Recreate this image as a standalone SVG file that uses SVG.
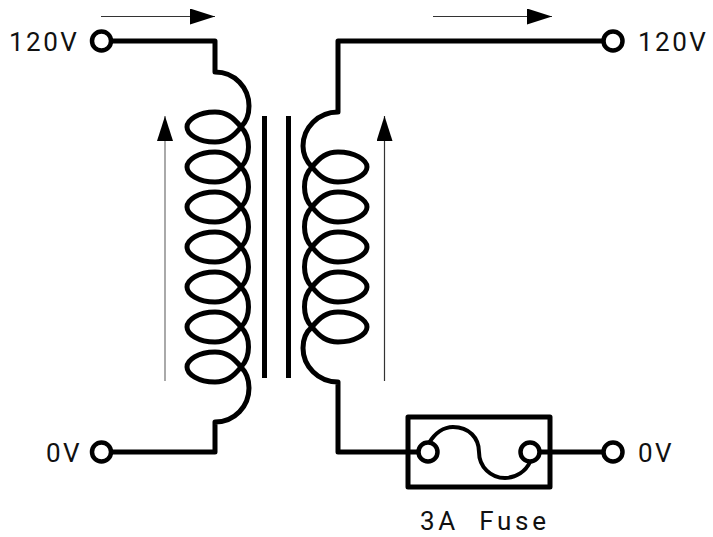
<svg xmlns="http://www.w3.org/2000/svg" width="713" height="537" viewBox="0 0 713 537">
<style>
.w{fill:none;stroke:#000;stroke-width:5;stroke-linejoin:round;stroke-linecap:butt}
.t{fill:#fff;stroke:#000;stroke-width:4.500}
.f{fill:#fff;stroke:#000;stroke-width:4.500}
.a{fill:none;stroke:#333;stroke-width:1.2}
text{font-family:"Roboto",sans-serif;font-size:26px;fill:#111;letter-spacing:2.500px}
</style>
<defs>
<marker id="h" markerUnits="userSpaceOnUse" markerWidth="26" markerHeight="16" refX="25" refY="8" orient="auto"><path d="M0 0L25 8L0 16Z" fill="#000"/></marker>
<path id="lp" d="M241 127C233 137 226 142 215 142C198 142 187 134 187 127C187 120 198 112 215 112C226 112 233 117 241 127C251 137 251 157 241 167"/>
<path id="ls" d="M312 167C320 157 327 152 338 152C355 152 367 160 367 167C367 174 355 182 338 182C327 182 320 177 312 167C302 177 302 197 312 207"/>
</defs>
<g id="connectors">
<path class="w" d="M110 41H215V72C235 72 249 88 249 106C249 115 246 122 241 127"/>
<use href="#lp" class="w"/><use href="#lp" class="w" y="40"/><use href="#lp" class="w" y="80"/><use href="#lp" class="w" y="120"/><use href="#lp" class="w" y="160"/><use href="#lp" class="w" y="200"/>
<path class="w" d="M241 367C233 377 226 382 215 382C198 382 187 374 187 367C187 360 198 352 215 352C226 352 233 357 241 367C246 372 249 379 249 388C249 406 235 422 215 422V452H110"/>
<path class="w" d="M605 41H338V112C318 112 303 128 303 146C303 155 307 162 312 167"/>
<use href="#ls" class="w"/><use href="#ls" class="w" y="40"/><use href="#ls" class="w" y="80"/><use href="#ls" class="w" y="120"/>
<path class="w" d="M312 327C320 317 327 312 338 312C355 312 367 320 367 327C367 334 355 342 338 342C327 342 320 337 312 327C306 332 303 340 303 348C303 366 318 382 338 382V452H420"/>
<path class="w" d="M540 452H605"/>
<path class="a" d="M101 16.500H215" marker-end="url(#h)"/>
<path class="a" d="M433 16.500H552" marker-end="url(#h)"/>
<path class="a" stroke-opacity=".7" d="M165 381V116" marker-end="url(#h)"/>
<path class="a" d="M384.500 381V116" marker-end="url(#h)"/>
</g>
<g id="core"><rect x="262" y="116" width="5" height="262"/><rect x="286" y="116" width="5" height="262"/></g>
<g id="in-top"><circle class="t" cx="101.500" cy="41" r="9.500"/><text x="9" y="51">120V</text></g>
<g id="out-top"><circle class="t" cx="613" cy="41" r="9.500"/><text x="638" y="51">120V</text></g>
<g id="in-bottom"><circle class="t" cx="101.500" cy="452" r="9.500"/><text x="46" y="462">0V</text></g>
<g id="out-bottom"><circle class="t" cx="613" cy="452" r="9.500"/><text x="638" y="462">0V</text></g>
<g id="fuse">
<rect class="w" x="408" y="417" width="142" height="70" fill="none"/>
<path fill="none" stroke="#000" stroke-width="4" d="M429 443C435 433 444 427 453 427C469 427 479 438 479 452C479 467 491 478 505 478C516 478 526 471 530 462"/>
<circle class="f" cx="428" cy="452" r="9.500"/><circle class="f" cx="530" cy="452" r="9.500"/>
<text x="420" y="530" style="letter-spacing:3.700px" xml:space="preserve">3A  Fuse</text>
</g>
</svg>
